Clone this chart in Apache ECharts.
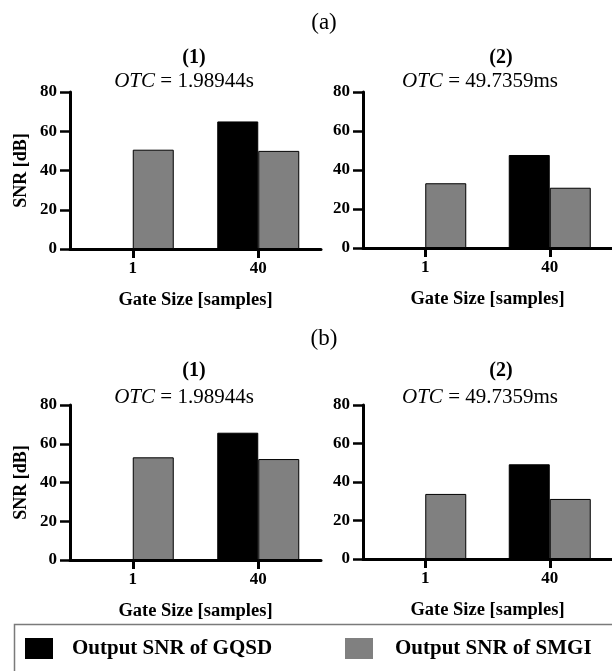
<!DOCTYPE html>
<html>
<head>
<meta charset="utf-8">
<script src="https://cdn.jsdelivr.net/npm/echarts@6/dist/echarts.min.js"></script>
<style>html,body{margin:0;padding:0;background:#fff}#c{width:612px;height:671px}</style>
</head>
<body>
<div id="c"></div>
<script>
const categories = ['1', '40'];
const yTicks = [0, 20, 40, 60, 80];
const seriesNames = ['Output SNR of GQSD', 'Output SNR of SMGI'];
const gqsdA1 = [null, 65.0];
const smgiA1 = [50.6, 50.0];
const gqsdA2 = [null, 47.7];
const smgiA2 = [33.2, 30.9];
const gqsdB1 = [null, 65.7];
const smgiB1 = [53.0, 52.1];
const gqsdB2 = [null, 49.2];
const smgiB2 = [33.8, 31.2];
const panelLabels = ['(a)', '(b)'];
const subTitles = ['(1)', '(2)'];
const otcTexts = ['1.98944s', '49.7359ms'];

const SERIF = '"Liberation Serif", "Times New Roman", serif';
const grids = [
  {left: 70, top: 92, width: 251, height: 157},
  {left: 363, top: 92, width: 250, height: 156},
  {left: 70, top: 405, width: 251, height: 155},
  {left: 363, top: 405, width: 250, height: 154}
];
const dataSets = [[gqsdA1, smgiA1], [gqsdA2, smgiA2], [gqsdB1, smgiB1], [gqsdB2, smgiB2]];

const axisLine = {show: true, lineStyle: {color: '#000', width: 3}};
const xAxes = grids.map((g, i) => ({
  type: 'category', gridIndex: i, data: categories,
  axisLine: axisLine,
  axisTick: {show: true, alignWithLabel: true, length: 9, lineStyle: {color: '#000', width: 3}},
  axisLabel: {color: '#000', fontFamily: SERIF, fontWeight: 'bold', fontSize: 17, margin: 11},
  name: 'Gate Size [samples]', nameLocation: 'middle', nameGap: 42,
  nameTextStyle: {color: '#000', fontFamily: SERIF, fontWeight: 'bold', fontSize: 18.5}
}));
const yAxes = grids.map((g, i) => ({
  type: 'value', gridIndex: i, min: 0, max: 80, interval: 20,
  axisLine: axisLine,
  axisTick: {show: true, length: 10, lineStyle: {color: '#000', width: 2.5}},
  splitLine: {show: false},
  axisLabel: {color: '#000', fontFamily: SERIF, fontWeight: 'bold', fontSize: 17, margin: 13,
    formatter: v => yTicks.includes(v) ? String(v) : ''},
  name: (i % 2 === 0) ? 'SNR [dB]' : '', nameLocation: 'middle', nameRotate: 90, nameGap: 40,
  nameTextStyle: {color: '#000', fontFamily: SERIF, fontWeight: 'bold', fontSize: 18}
}));
const series = [];
dataSets.forEach((pair, i) => {
  pair.forEach((d, k) => {
    series.push({
      type: 'bar', name: seriesNames[k], xAxisIndex: i, yAxisIndex: i, data: d,
      barWidth: 41, barGap: '0%',
      itemStyle: {color: k === 0 ? '#000000' : '#808080', borderColor: '#000', borderWidth: 1},
      emphasis: {disabled: true}
    });
  });
});

const titles = [];
const subX = [[194, 184], [501, 480]];
const labelTop = [11, 327];
const subTop = [48, 361];
const otcTop = [71, 387];
for (let r = 0; r < 2; r++) {
  titles.push({text: panelLabels[r], left: 324, top: labelTop[r], textAlign: 'center', padding: 0,
    textStyle: {fontFamily: SERIF, fontWeight: 'normal', fontSize: 23, color: '#000'}});
  for (let c = 0; c < 2; c++) {
    titles.push({text: subTitles[c], left: subX[c][0], top: subTop[r], textAlign: 'center', padding: 0,
      textStyle: {fontFamily: SERIF, fontWeight: 'bold', fontSize: 20, color: '#000'}});
    titles.push({text: '{i|OTC} = ' + otcTexts[c], left: subX[c][1], top: otcTop[r], textAlign: 'center', padding: 0,
      textStyle: {fontFamily: SERIF, fontWeight: 'normal', fontSize: 21, color: '#000',
        rich: {i: {fontStyle: 'italic', fontFamily: SERIF, fontSize: 21, color: '#000'}}}});
  }
}

const legendText = {fontFamily: SERIF, fontWeight: 'bold', fontSize: 21, color: '#000'};
const option = {
  animation: false,
  backgroundColor: '#fff',
  title: titles,
  grid: grids,
  xAxis: xAxes,
  yAxis: yAxes,
  series: series,
  legend: [
    {data: [seriesNames[0]], left: 25, top: 638, padding: 0, icon: 'rect', itemWidth: 28, itemHeight: 21,
      itemStyle: {borderWidth: 0}, selectedMode: false,
      textStyle: Object.assign({padding: [0, 0, 0, 14]}, legendText)},
    {data: [seriesNames[1]], left: 345, top: 638, padding: 0, icon: 'rect', itemWidth: 28, itemHeight: 21,
      itemStyle: {borderWidth: 0}, selectedMode: false,
      textStyle: Object.assign({padding: [0, 0, 0, 17]}, legendText)}
  ],
  graphic: [{type: 'rect', shape: {x: 14.5, y: 624.5, width: 640, height: 80},
    style: {fill: 'none', stroke: '#7a7a7a', lineWidth: 1.5}, silent: true}]
};
const chart = echarts.init(document.getElementById('c'), null, {renderer: 'canvas'});
chart.setOption(option);
</script>
</body>
</html>
